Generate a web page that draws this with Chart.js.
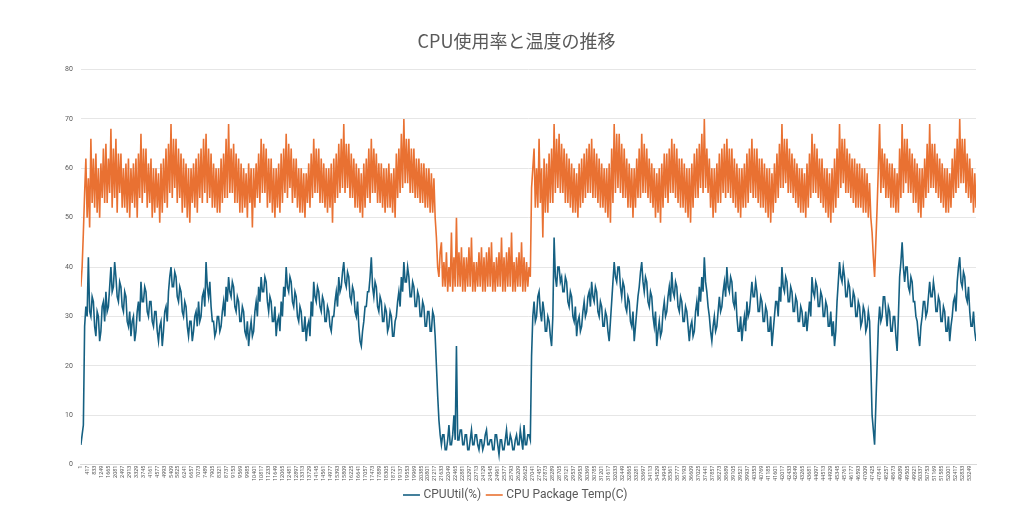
<!DOCTYPE html>
<html lang="ja">
<head>
<meta charset="UTF-8">
<title>CPU使用率と温度の推移</title>
<script src="https://cdn.jsdelivr.net/npm/chart.js@4.4.1/dist/chart.umd.min.js"></script>
<style>
    html, body { margin: 0; padding: 0; background: #ffffff; }
    #chart-wrap { width: 1024px; height: 509px; position: relative; }
</style>
</head>
<body>
<div id="chart-wrap"><canvas id="cpuChart"></canvas></div>
<script>
// 元データの行番号(1始まり)。75行ごとに読み取った値
const SAMPLE_STEP = 75;

// X軸の目盛りラベル(行番号)
const tickLabels = [
    1, 417, 833, 1249, 1665, 2081, 2497, 2913, 3329, 3745,
    4161, 4577, 4993, 5409, 5825, 6241, 6657, 7073, 7489, 7905,
    8321, 8737, 9153, 9569, 9985, 10401, 10817, 11233, 11649, 12065,
    12481, 12897, 13313, 13729, 14145, 14561, 14977, 15393, 15809, 16225,
    16641, 17057, 17473, 17889, 18305, 18721, 19137, 19553, 19969, 20385,
    20801, 21217, 21633, 22049, 22465, 22881, 23297, 23713, 24129, 24545,
    24961, 25377, 25793, 26209, 26625, 27041, 27457, 27873, 28289, 28705,
    29121, 29537, 29953, 30369, 30785, 31201, 31617, 32033, 32449, 32865,
    33281, 33697, 34113, 34529, 34945, 35361, 35777, 36193, 36609, 37025,
    37441, 37857, 38273, 38689, 39105, 39521, 39937, 40353, 40769, 41185,
    41601, 42017, 42433, 42849, 43265, 43681, 44097, 44513, 44929, 45345,
    45761, 46177, 46593, 47009, 47425, 47841, 48257, 48673, 49089, 49505,
    49921, 50337, 50753, 51169, 51585, 52001, 52417, 52833, 53249
];

// CPUUtil(%)
const cpuUtil = [
    4, 6, 8, 28, 32, 30, 42, 31, 30, 34, 33, 28, 26, 31, 30, 25, 27, 32, 33, 29,
    35, 31, 32, 36, 40, 35, 36, 41, 38, 34, 33, 37, 36, 32, 31, 35, 34, 29, 28, 31,
    26, 29, 30, 25, 27, 31, 33, 29, 37, 33, 33, 36, 35, 31, 30, 33, 33, 29, 28, 31,
    31, 27, 25, 28, 29, 24, 27, 31, 32, 29, 35, 38, 40, 36, 36, 39, 38, 34, 33, 36,
    35, 31, 30, 33, 32, 28, 26, 29, 29, 25, 27, 30, 31, 28, 33, 29, 30, 34, 35, 32,
    41, 36, 34, 37, 32, 29, 29, 26, 27, 30, 30, 27, 28, 31, 33, 30, 36, 33, 38, 35,
    34, 37, 36, 32, 31, 34, 33, 29, 29, 32, 31, 27, 26, 29, 24, 27, 29, 26, 27, 31,
    33, 30, 36, 33, 38, 35, 35, 38, 37, 33, 31, 34, 33, 29, 29, 32, 26, 29, 30, 27,
    33, 30, 36, 34, 40, 36, 35, 38, 37, 33, 32, 35, 34, 30, 29, 32, 31, 27, 27, 30,
    25, 28, 29, 26, 33, 30, 37, 34, 33, 36, 35, 32, 31, 34, 33, 29, 29, 32, 31, 28,
    27, 30, 30, 33, 35, 32, 38, 35, 36, 39, 41, 37, 36, 39, 38, 34, 33, 36, 35, 31,
    30, 33, 28, 25, 24, 27, 29, 32, 32, 35, 35, 38, 42, 36, 34, 37, 36, 32, 31, 34,
    33, 29, 29, 32, 31, 27, 28, 31, 30, 26, 26, 29, 30, 33, 35, 32, 38, 35, 41, 37,
    37, 40, 38, 34, 34, 37, 36, 32, 32, 35, 34, 30, 30, 33, 32, 28, 28, 31, 31, 27,
    27, 31, 30, 26, 20, 14, 9, 6, 4, 6, 6, 3, 3, 5, 8, 4, 4, 6, 10, 5,
    24, 5, 5, 7, 7, 4, 4, 6, 6, 3, 3, 5, 7, 4, 4, 6, 6, 4, 3, 5,
    5, 3, 4, 6, 7, 4, 4, 5, 5, 3, 3, 6, 6, 4, 2, 5, 5, 3, 3, 5,
    7, 4, 4, 6, 5, 3, 3, 5, 6, 4, 4, 7, 5, 3, 8, 4, 4, 6, 6, 5,
    22, 30, 33, 29, 30, 34, 35, 31, 29, 33, 31, 27, 27, 30, 29, 26, 24, 30, 46, 38,
    36, 40, 40, 37, 38, 35, 35, 38, 37, 33, 32, 35, 34, 30, 29, 32, 26, 29, 30, 27,
    28, 31, 33, 30, 31, 34, 35, 32, 37, 34, 33, 36, 35, 31, 30, 33, 32, 28, 28, 31,
    30, 27, 25, 29, 33, 37, 41, 38, 37, 40, 40, 36, 34, 37, 36, 32, 31, 34, 33, 29,
    28, 31, 25, 28, 31, 34, 36, 39, 41, 37, 35, 38, 37, 33, 32, 35, 34, 30, 28, 31,
    24, 27, 29, 26, 27, 31, 33, 30, 31, 34, 36, 33, 39, 35, 34, 37, 36, 32, 31, 34,
    33, 29, 29, 32, 31, 28, 25, 28, 29, 26, 27, 31, 33, 30, 36, 33, 38, 35, 42, 37,
    35, 32, 30, 27, 25, 28, 30, 27, 28, 31, 34, 31, 32, 35, 37, 34, 40, 36, 35, 38,
    37, 33, 32, 35, 30, 27, 27, 30, 25, 28, 30, 27, 33, 30, 31, 34, 37, 34, 34, 37,
    35, 31, 31, 34, 33, 29, 29, 32, 31, 27, 27, 30, 24, 27, 30, 33, 33, 30, 36, 33,
    40, 36, 35, 38, 37, 33, 33, 36, 35, 31, 31, 34, 33, 29, 29, 32, 31, 28, 28, 31,
    27, 30, 33, 30, 38, 35, 34, 37, 36, 32, 32, 35, 34, 30, 30, 33, 32, 28, 28, 31,
    26, 29, 24, 27, 33, 37, 41, 38, 37, 40, 38, 34, 34, 37, 36, 32, 32, 35, 34, 30,
    30, 33, 32, 28, 29, 32, 31, 27, 28, 31, 29, 20, 10, 7, 4, 12, 20, 28, 32, 29,
    30, 34, 34, 31, 28, 32, 31, 27, 27, 30, 30, 26, 23, 30, 38, 41, 45, 40, 37, 40,
    40, 36, 35, 38, 37, 33, 33, 30, 29, 26, 24, 28, 30, 33, 33, 30, 31, 34, 37, 34,
    34, 37, 35, 31, 31, 34, 33, 29, 29, 32, 31, 27, 27, 30, 25, 28, 30, 33, 34, 31,
    37, 40, 42, 37, 36, 39, 38, 34, 33, 36, 31, 28, 28, 31, 27, 25
];

// CPU Package Temp(C)
const cpuTemp = [
    36, 40, 47, 55, 62, 50, 58, 48, 66, 53, 62, 52, 63, 51, 60, 50, 61, 54, 64, 53,
    65, 53, 62, 55, 68, 52, 64, 54, 66, 51, 63, 55, 63, 52, 60, 52, 61, 51, 62, 50,
    60, 53, 61, 52, 62, 50, 63, 54, 67, 53, 64, 55, 64, 52, 61, 53, 62, 50, 60, 51,
    60, 52, 59, 49, 61, 51, 62, 53, 64, 52, 65, 55, 69, 54, 66, 56, 66, 53, 64, 54,
    63, 51, 62, 52, 61, 50, 60, 49, 60, 53, 61, 52, 62, 51, 63, 54, 64, 53, 66, 55,
    67, 53, 64, 54, 63, 52, 61, 52, 60, 51, 60, 51, 62, 53, 63, 54, 66, 54, 69, 55,
    64, 55, 65, 53, 63, 53, 62, 51, 61, 51, 60, 52, 59, 50, 61, 53, 60, 48, 60, 52,
    61, 54, 63, 53, 66, 55, 65, 55, 64, 52, 62, 53, 62, 51, 60, 50, 60, 52, 61, 51,
    63, 53, 64, 55, 67, 54, 65, 56, 64, 53, 62, 54, 62, 52, 60, 51, 60, 51, 59, 50,
    59, 53, 61, 52, 63, 54, 66, 55, 64, 55, 64, 53, 62, 53, 61, 52, 60, 51, 60, 52,
    61, 49, 62, 53, 63, 54, 65, 55, 66, 56, 69, 55, 65, 56, 65, 54, 63, 54, 62, 52,
    61, 52, 60, 51, 59, 50, 61, 52, 62, 54, 64, 53, 66, 55, 64, 55, 63, 53, 61, 53,
    61, 52, 60, 51, 60, 52, 61, 52, 59, 51, 60, 50, 63, 54, 64, 55, 67, 56, 70, 57,
    66, 57, 66, 55, 64, 55, 64, 54, 62, 54, 62, 53, 61, 53, 61, 52, 60, 52, 60, 51,
    59, 51, 58, 50, 46, 40, 38, 43, 45, 36, 41, 36, 43, 35, 40, 36, 47, 35, 42, 36,
    50, 36, 43, 36, 44, 35, 42, 35, 42, 36, 44, 36, 46, 35, 41, 35, 41, 36, 43, 36,
    44, 35, 42, 35, 43, 36, 44, 36, 45, 35, 41, 35, 42, 36, 43, 36, 46, 35, 42, 35,
    43, 36, 44, 36, 47, 35, 41, 35, 42, 36, 43, 36, 45, 35, 42, 35, 41, 36, 40, 38,
    56, 60, 64, 52, 60, 52, 66, 53, 60, 46, 62, 51, 61, 51, 63, 53, 64, 53, 69, 55,
    66, 56, 67, 55, 65, 55, 64, 53, 63, 53, 62, 52, 61, 51, 60, 51, 59, 50, 61, 52,
    62, 53, 63, 54, 64, 55, 65, 55, 66, 54, 64, 54, 63, 53, 62, 52, 61, 52, 60, 51,
    60, 50, 61, 49, 64, 53, 69, 55, 67, 56, 67, 55, 65, 54, 64, 54, 62, 52, 61, 52,
    60, 50, 60, 52, 62, 54, 64, 54, 67, 55, 65, 55, 64, 54, 62, 53, 61, 52, 60, 50,
    59, 51, 60, 49, 61, 52, 63, 54, 63, 53, 64, 55, 66, 55, 65, 54, 64, 53, 62, 52,
    62, 52, 61, 51, 60, 50, 60, 49, 61, 52, 63, 54, 64, 54, 65, 56, 67, 55, 70, 56,
    64, 55, 62, 52, 60, 50, 60, 51, 61, 53, 63, 53, 64, 55, 65, 54, 66, 55, 64, 54,
    64, 53, 62, 52, 61, 51, 60, 50, 60, 52, 61, 52, 63, 53, 64, 55, 66, 54, 64, 54,
    64, 53, 62, 52, 62, 52, 61, 51, 60, 50, 60, 49, 59, 51, 61, 53, 63, 54, 65, 56,
    69, 56, 66, 57, 66, 55, 64, 55, 63, 54, 62, 53, 61, 52, 60, 51, 60, 51, 59, 50,
    61, 52, 63, 54, 67, 55, 65, 55, 64, 54, 62, 53, 62, 52, 60, 51, 60, 50, 59, 49,
    60, 51, 62, 52, 64, 54, 69, 56, 66, 57, 66, 55, 64, 55, 63, 54, 62, 53, 62, 52,
    61, 52, 61, 52, 60, 51, 60, 51, 59, 50, 57, 50, 47, 42, 38, 45, 52, 60, 69, 55,
    64, 56, 63, 54, 62, 54, 61, 52, 61, 52, 60, 51, 59, 51, 64, 54, 69, 55, 66, 57,
    66, 55, 64, 55, 63, 53, 62, 53, 61, 51, 60, 50, 60, 52, 62, 54, 65, 55, 69, 56,
    65, 56, 65, 55, 63, 54, 62, 53, 61, 52, 60, 51, 60, 51, 59, 52, 62, 54, 64, 55,
    66, 56, 70, 57, 66, 57, 66, 55, 63, 54, 62, 53, 60, 51, 59, 52
];

const App = {
    colors: {
        util: '#156082',
        temp: '#E97132',
        text: '#595959',
        grid: '#e6e6e6',
    },

    // 行番号と値を組み合わせて点にする
    toPoints(values) {
        return values.map((v, i) => ({ x: 1 + i * SAMPLE_STEP, y: v }));
    },

    init() {
        const ctx = document.getElementById('cpuChart').getContext('2d');
        const lastRow = 1 + (cpuUtil.length - 1) * SAMPLE_STEP;

        new Chart(ctx, {
            type: 'line',
            data: {
                datasets: [{
                    label: 'CPUUtil(%)',
                    data: this.toPoints(cpuUtil),
                    borderColor: this.colors.util,
                    backgroundColor: this.colors.util,
                    borderWidth: 1.6,
                    pointRadius: 0,
                    tension: 0,
                }, {
                    label: 'CPU Package Temp(C)',
                    data: this.toPoints(cpuTemp),
                    borderColor: this.colors.temp,
                    backgroundColor: this.colors.temp,
                    borderWidth: 1.6,
                    pointRadius: 0,
                    tension: 0,
                }]
            },
            options: {
                responsive: true,
                maintainAspectRatio: false,
                animation: false,
                devicePixelRatio: 1,
                // 凡例を少し下げるため bottom は負の値
                layout: { padding: { top: 30, left: 57, right: 48, bottom: -2 } },
                scales: {
                    x: {
                        type: 'linear',
                        min: 1,
                        max: lastRow,
                        // 目盛り線なし(tick 長さも 0 にしてラベルを軸に寄せる)
                        grid: { display: false, drawTicks: false },
                        border: { color: '#d9d9d9' },
                        afterBuildTicks: (axis) => {
                            axis.ticks = tickLabels.map(v => ({ value: v }));
                        },
                        ticks: {
                            autoSkip: false,
                            minRotation: 90,
                            maxRotation: 90,
                            padding: 1,
                            color: this.colors.text,
                            font: { family: 'Roboto, "Noto Sans"', size: 5.5 },
                            callback: (v) => String(v),
                        }
                    },
                    y: {
                        min: 0,
                        max: 80,
                        ticks: {
                            stepSize: 10,
                            padding: 8,
                            color: this.colors.text,
                            font: { family: 'Roboto, "Noto Sans"', size: 7 },
                        },
                        grid: { color: this.colors.grid, drawTicks: false },
                        border: { display: false },
                    }
                },
                plugins: {
                    title: {
                        display: true,
                        text: 'CPU使用率と温度の推移',
                        color: this.colors.text,
                        font: { family: '"Noto Sans CJK JP"', size: 18, weight: 'normal' },
                        padding: { top: 0, bottom: 18 },
                    },
                    legend: {
                        position: 'bottom',
                        labels: {
                            usePointStyle: true,
                            pointStyle: 'line',
                            boxWidth: 16,
                            padding: 7,
                            color: this.colors.text,
                            font: { family: 'Roboto, "Noto Sans"', size: 12 },
                        }
                    },
                    tooltip: { enabled: false }
                }
            }
        });
    }
};

document.addEventListener('DOMContentLoaded', () => {
    App.init();
});
</script>
</body>
</html>
